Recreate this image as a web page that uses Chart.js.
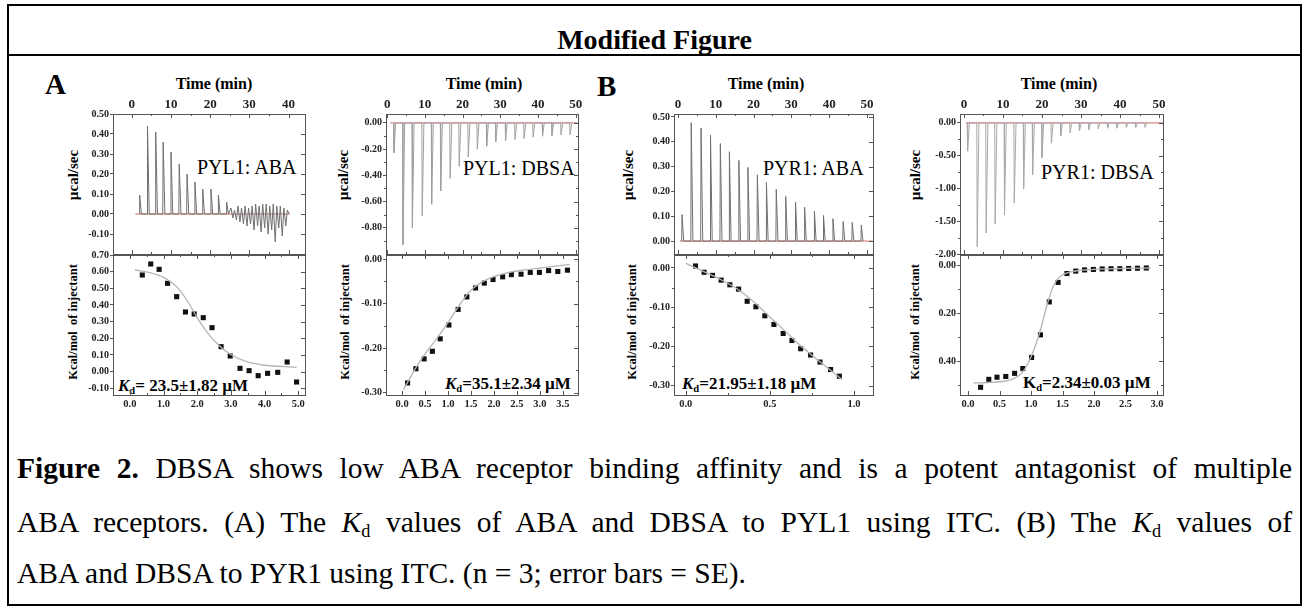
<!DOCTYPE html>
<html>
<head>
<meta charset="utf-8">
<script src="https://cdn.jsdelivr.net/npm/chart.js@4.4.1/dist/chart.umd.min.js"></script>
<style>
  html, body { margin: 0; padding: 0; background: #fff; }
  body { width: 1309px; height: 611px; position: relative; overflow: hidden;
         font-family: 'Liberation Serif', 'Times New Roman', serif; color: #000; }
  #frame { position: absolute; left: 7px; top: 4px; width: 1295px; height: 602px;
           border: 2px solid #000; box-sizing: border-box; }
  #rule { position: absolute; left: 7px; top: 54px; width: 1295px; height: 2px; background: #000; }
  #title { position: absolute; left: 0; width: 1309px; top: 25px; text-align: center;
           font-weight: bold; font-size: 28px; line-height: 30px; }
  canvas { position: absolute; }
  .lbl { position: absolute; white-space: pre; transform: translate(0, -50%); }
  .ctr { position: absolute; white-space: pre; transform: translate(-50%, -50%); }
  .rot { position: absolute; white-space: pre; transform: translate(-50%, -50%) rotate(-90deg);
         font-weight: bold; }
  .panel { font-weight: bold; font-size: 29px; }
  .tmin { font-weight: bold; font-size: 16px; }
  .name { font-size: 20px; }
  .kd { font-weight: bold; font-size: 17px; }
  .kd sub, .cap sub { font-size: 0.62em; vertical-align: -0.25em; line-height: 0; }
  .cap { position: absolute; left: 17px; width: 1275px; font-size: 29.5px; line-height: 32px;
         white-space: nowrap; }
  .just { text-align: justify; text-align-last: justify; }
</style>
</head>
<body>
<div id="frame"></div>
<div id="title">Modified Figure</div>
<div id="rule"></div>

<div class="lbl panel" style="left:45px; top:84px;">A</div>
<div class="lbl panel" style="left:597px; top:86px;">B</div>

<div class="ctr tmin" style="left:214px; top:84px;">Time (min)</div>
<div class="ctr tmin" style="left:484px; top:84px;">Time (min)</div>
<div class="ctr tmin" style="left:766px; top:84px;">Time (min)</div>
<div class="ctr tmin" style="left:1059px; top:84px;">Time (min)</div>

<div class="rot" style="left:73px; top:175px; font-size:15px;">µcal/sec</div>
<div class="rot" style="left:343px; top:175px; font-size:15px;">µcal/sec</div>
<div class="rot" style="left:628px; top:175px; font-size:15px;">µcal/sec</div>
<div class="rot" style="left:915px; top:175px; font-size:15px;">µcal/sec</div>

<div class="rot" style="left:73px; top:322px; font-size:12.5px;">Kcal/mol  of injectant</div>
<div class="rot" style="left:345px; top:322px; font-size:12.5px;">Kcal/mol  of injectant</div>
<div class="rot" style="left:632px; top:322px; font-size:12.5px;">Kcal/mol  of injectant</div>
<div class="rot" style="left:915px; top:322px; font-size:12.5px;">Kcal/mol  of injectant</div>

<div class="lbl name" style="left:197px; top:167px;">PYL1: ABA</div>
<div class="lbl name" style="left:463px; top:168px;">PYL1: DBSA</div>
<div class="lbl name" style="left:763px; top:168px;">PYR1: ABA</div>
<div class="lbl name" style="left:1041px; top:172px;">PYR1: DBSA</div>

<div class="lbl kd" style="left:118px; top:386px;"><i>K</i><sub>d</sub>= 23.5±1.82 µM</div>
<div class="lbl kd" style="left:445px; top:384px;"><i>K</i><sub>d</sub>=35.1±2.34 µM</div>
<div class="lbl kd" style="left:682px; top:384px;"><i>K</i><sub>d</sub>=21.95±1.18 µM</div>
<div class="lbl kd" style="left:1023px; top:383px;">K<sub>d</sub>=2.34±0.03 µM</div>

<div class="cap just" style="top:452px;"><b>Figure 2.</b> DBSA shows low ABA receptor binding affinity and is a potent antagonist of multiple</div>
<div class="cap just" style="top:506px;">ABA receptors. (A) The <i>K</i><sub>d</sub> values of ABA and DBSA to PYL1 using ITC. (B) The <i>K</i><sub>d</sub> values of</div>
<div class="cap" style="top:557px;">ABA and DBSA to PYR1 using ITC. (n = 3; error bars = SE).</div>

<script>
// ---------- thermograms: injection times (min) and peak power (µcal/sec) ----------
const a1InjTime = [1.9, 3.9, 6.0, 7.9, 9.9, 12.0, 14.0, 16.0, 18.0, 20.1, 22.0, 24.1];
const a1InjPeak = [0.095, 0.44, 0.41, 0.36, 0.31, 0.25, 0.20, 0.16, 0.125, 0.125, 0.095, 0.06];
const a1TailTime = [24.8, 25.3, 25.8, 26.2, 26.7, 27.1, 27.6, 28.0, 28.5, 28.9, 29.4, 29.8, 30.3, 30.7,
                    31.2, 31.6, 32.1, 32.5, 33.0, 33.4, 33.9, 34.3, 34.8, 35.2, 35.7, 36.1, 36.6, 37.0,
                    37.5, 37.9, 38.4, 38.8, 39.3, 39.7, 40.2];
const a1TailPower = [0.0, 0.03, -0.02, 0.02, -0.03, 0.04, -0.04, 0.03, -0.05, 0.04, -0.06, 0.03, -0.05, 0.04,
                     -0.08, 0.05, -0.06, 0.04, -0.09, 0.05, -0.07, 0.05, -0.10, 0.04, -0.08, 0.05, -0.14, 0.04,
                     -0.07, 0.04, -0.11, 0.03, -0.06, 0.02, 0.0];

const a2InjTime = [1.7, 4.1, 6.6, 9.2, 11.7, 14.1, 16.6, 19.0, 21.4, 23.8, 26.3, 28.7, 31.3, 33.8,
                   36.2, 38.6, 41.1, 43.6, 46.0, 48.4];
const a2InjPeak = [-0.228, -0.929, -0.80, -0.709, -0.62, -0.519, -0.423, -0.33, -0.26, -0.20, -0.177,
                   -0.144, -0.134, -0.127, -0.119, -0.109, -0.101, -0.096, -0.092, -0.09];

const b1InjTime = [0.97, 3.4, 6.0, 8.5, 11.1, 13.5, 16.0, 18.4, 20.9, 23.3, 25.9, 28.4, 31.0, 33.4,
                   36.0, 38.4, 40.9, 43.6, 46.0, 48.4];
const b1InjPeak = [0.107, 0.477, 0.456, 0.427, 0.393, 0.36, 0.325, 0.297, 0.267, 0.236, 0.209, 0.18,
                   0.157, 0.137, 0.12, 0.103, 0.09, 0.079, 0.075, 0.065];

const b2InjTime = [0.85, 3.3, 5.6, 7.9, 10.3, 12.8, 15.2, 17.5, 19.9, 22.3, 24.7, 27.1, 29.5, 31.9,
                   34.3, 36.7, 39.1, 41.5, 43.9, 46.3];
const b2InjPeak = [-0.43, -1.89, -1.68, -1.54, -1.40, -1.22, -1.00, -0.79, -0.53, -0.31, -0.20, -0.15,
                   -0.12, -0.10, -0.09, -0.08, -0.08, -0.07, -0.07, -0.07];

// ---------- integrated heats (kcal/mol of injectant) vs molar ratio ----------
const a1Ratio = [0.37, 0.62, 0.87, 1.12, 1.39, 1.65, 1.91, 2.18, 2.44, 2.71, 2.98, 3.27, 3.54, 3.81, 4.09, 4.39, 4.67, 4.95];
const a1Heat  = [0.58, 0.646, 0.614, 0.53, 0.45, 0.358, 0.346, 0.324, 0.264, 0.15, 0.094, 0.02, 0.006, -0.024, -0.01, -0.004, 0.058, -0.062];
const a1FitRatio = [0.15, 0.6, 1.0, 1.39, 1.69, 1.98, 2.28, 2.58, 2.97, 3.47, 3.96, 4.95];
const a1FitHeat  = [0.61, 0.594, 0.566, 0.51, 0.43, 0.33, 0.24, 0.17, 0.106, 0.06, 0.04, 0.026];

const a2Ratio = [0.12, 0.30, 0.48, 0.66, 0.83, 1.02, 1.22, 1.41, 1.60, 1.79, 1.98, 2.19, 2.38, 2.59, 2.79, 2.99, 3.19, 3.39, 3.60];
const a2Heat  = [-0.278, -0.246, -0.224, -0.207, -0.179, -0.148, -0.113, -0.085, -0.065, -0.054, -0.046, -0.040, -0.035, -0.034, -0.030, -0.030, -0.026, -0.028, -0.025];
const a2FitRatio = [0.03, 0.39, 0.75, 0.97, 1.26, 1.48, 1.70, 1.98, 2.28, 2.71, 3.43, 3.65];
const a2FitHeat  = [-0.293, -0.229, -0.179, -0.147, -0.102, -0.072, -0.054, -0.040, -0.031, -0.024, -0.015, -0.012];

const b1Ratio = [0.058, 0.109, 0.159, 0.210, 0.262, 0.314, 0.365, 0.417, 0.470, 0.524, 0.579, 0.631, 0.683, 0.742, 0.798, 0.861, 0.913];
const b1Heat  = [0.005, -0.011, -0.019, -0.031, -0.043, -0.054, -0.085, -0.099, -0.122, -0.144, -0.167, -0.185, -0.206, -0.222, -0.240, -0.259, -0.276];
const b1FitRatio = [0.0, 0.1, 0.2, 0.3, 0.4, 0.5, 0.6, 0.7, 0.8, 0.93];
const b1FitHeat  = [0.012, -0.008, -0.028, -0.052, -0.085, -0.125, -0.165, -0.205, -0.24, -0.285];

const b2Ratio = [0.20, 0.33, 0.46, 0.60, 0.74, 0.87, 1.01, 1.15, 1.29, 1.43, 1.57, 1.71, 1.85, 1.99, 2.13, 2.27, 2.41, 2.55, 2.69, 2.83];
const b2Heat  = [0.508, 0.475, 0.466, 0.463, 0.45, 0.43, 0.384, 0.29, 0.153, 0.072, 0.035, 0.025, 0.02, 0.018, 0.016, 0.015, 0.015, 0.014, 0.013, 0.012];
const b2FitRatio = [0.085, 0.3, 0.5, 0.7, 0.85, 0.95, 1.05, 1.15, 1.25, 1.35, 1.45, 1.6, 2.0, 2.5, 2.9];
const b2FitHeat  = [0.49, 0.488, 0.485, 0.475, 0.45, 0.41, 0.35, 0.27, 0.17, 0.09, 0.05, 0.03, 0.018, 0.014, 0.012];

// ---------- tick labels ----------
const timeTicksA1 = [0, 10, 20, 30, 40];
const timeTicks = [0, 10, 20, 30, 40, 50];
const powerTicksA1 = [-0.1, 0, 0.1, 0.2, 0.3, 0.4, 0.5];
const powerTicksA2 = [-0.8, -0.6, -0.4, -0.2, 0];
const powerTicksB1 = [0, 0.1, 0.2, 0.3, 0.4, 0.5];
const powerTicksB2 = [-2, -1.5, -1, -0.5, 0];
const ratioTicksA1 = [0, 1, 2, 3, 4, 5];
const ratioTicksA2 = [0, 0.5, 1, 1.5, 2, 2.5, 3, 3.5];
const ratioTicksB1 = [0, 0.5, 1];
const ratioTicksB2 = [0, 0.5, 1, 1.5, 2, 2.5, 3];
const heatTicksA1 = [-0.1, 0, 0.1, 0.2, 0.3, 0.4, 0.5, 0.6, 0.7];
const heatTicksA2 = [-0.3, -0.2, -0.1, 0];
const heatTicksB1 = [-0.3, -0.2, -0.1, 0];
const heatTicksB2 = [0, 0.2, 0.4];

// ---------- helpers ----------
const FONT = "'Liberation Serif', 'Times New Roman', serif";
Chart.defaults.font.family = FONT;
Chart.defaults.color = '#222';

// each injection: baseline, sharp peak, quick return to baseline
function spikeTrace(times, peaks) {
  const pts = [];
  times.forEach((t, i) => {
    pts.push({ x: t, y: 0 }, { x: t + 0.1, y: peaks[i] }, { x: t + 0.55, y: 0 });
  });
  return pts;
}
function pairs(xs, ys) { return xs.map((x, i) => ({ x: x, y: ys[i] })); }

// box outline plus short tick marks on the remaining edges
const framePlugin = {
  id: 'frame',
  afterDatasetsDraw(chart, args, o) {
    const { ctx, chartArea: a, scales } = chart;
    ctx.save();
    ctx.strokeStyle = '#555';
    ctx.lineWidth = 1;
    ctx.strokeRect(Math.round(a.left) + 0.5, Math.round(a.top) + 0.5,
                   Math.round(a.right - a.left), Math.round(a.bottom - a.top));
    const xs = scales.x, ys = scales.y;
    ctx.beginPath();
    const edgeX = o.xSide === 'top' ? a.top : a.bottom;
    const dir = o.xSide === 'top' ? 1 : -1;
    (o.xMajor || []).forEach(v => {
      const p = Math.round(xs.getPixelForValue(v)) + 0.5;
      ctx.moveTo(p, edgeX); ctx.lineTo(p, edgeX + dir * 4);
      ctx.moveTo(p, a.top + a.bottom - edgeX); ctx.lineTo(p, a.top + a.bottom - edgeX - dir * 4);
    });
    (o.xMinor || []).forEach(v => {
      const p = Math.round(xs.getPixelForValue(v)) + 0.5;
      ctx.moveTo(p, edgeX); ctx.lineTo(p, edgeX + dir * 2);
      ctx.moveTo(p, a.top + a.bottom - edgeX); ctx.lineTo(p, a.top + a.bottom - edgeX - dir * 2);
    });
    (o.yMajor || []).forEach(v => {
      const p = Math.round(ys.getPixelForValue(v)) + 0.5;
      ctx.moveTo(a.right, p); ctx.lineTo(a.right - 4, p);
    });
    (o.yMinor || []).forEach(v => {
      const p = Math.round(ys.getPixelForValue(v)) + 0.5;
      ctx.moveTo(a.left, p); ctx.lineTo(a.left - 2, p);
      ctx.moveTo(a.right, p); ctx.lineTo(a.right - 2, p);
    });
    ctx.stroke();
    ctx.restore();
  }
};

const AXIS_W = 60;
const PAD_R = 12;

function makeChart(box, kind, spec) {
  const top = kind === 'top';
  const xAxisH = top ? 20 : 18;
  const padTop = top ? 0 : 8;
  const padBottom = top ? 8 : 0;
  const cv = document.createElement('canvas');
  const W = AXIS_W + box.w + PAD_R;
  const H = (top ? xAxisH : padTop) + box.h + (top ? padBottom : xAxisH);
  cv.width = W; cv.height = H;
  cv.style.left = (box.left - AXIS_W) + 'px';
  cv.style.top = (box.top - (top ? xAxisH : padTop)) + 'px';
  cv.style.width = W + 'px'; cv.style.height = H + 'px';
  document.body.appendChild(cv);

  const tickFontX = { family: FONT, size: top ? 13 : 10.5, weight: 'bold' };
  const tickFontY = { family: FONT, size: 10, weight: 'bold' };

  new Chart(cv, {
    type: 'scatter',
    data: { datasets: spec.datasets },
    options: {
      responsive: false,
      animation: false,
      devicePixelRatio: 1,
      layout: { padding: { left: 0, right: PAD_R, top: padTop, bottom: padBottom } },
      plugins: { legend: { display: false }, tooltip: { enabled: false },
                 frame: { xSide: top ? 'top' : 'bottom', xMajor: spec.xTicks, xMinor: spec.xMinor,
                          yMajor: spec.yTicks, yMinor: spec.yMinor } },
      scales: {
        x: {
          type: 'linear', position: top ? 'top' : 'bottom',
          min: spec.xRange[0], max: spec.xRange[1],
          afterBuildTicks: s => { s.ticks = spec.xTicks.map(v => ({ value: v })); },
          afterFit: s => { s.height = xAxisH; },
          grid: { drawOnChartArea: false, drawTicks: false },
          border: { display: true, color: '#555', width: 1 },
          ticks: { font: tickFontX, padding: top ? 2 : 3, maxRotation: 0, autoSkip: false,
                   callback: v => spec.xFmt(v) }
        },
        y: {
          type: 'linear', position: 'left', reverse: !!spec.reverseY,
          min: spec.yRange[0], max: spec.yRange[1],
          afterBuildTicks: s => { s.ticks = spec.yTicks.map(v => ({ value: v })); },
          afterFit: s => { s.width = AXIS_W; },
          grid: { drawOnChartArea: false, drawTicks: true, tickLength: 3, color: '#555' },
          border: { display: true, color: '#555', width: 1 },
          ticks: { font: tickFontY, padding: 1, autoSkip: false,
                   callback: v => Number(v).toFixed(2) }
        }
      }
    },
    plugins: [framePlugin]
  });
}

function thermoSets(trace, baseFrom, baseTo, grey) {
  return [
    { data: trace, showLine: true, borderColor: grey, borderWidth: 1, pointRadius: 0, tension: 0 },
    { data: [{ x: baseFrom, y: 0 }, { x: baseTo, y: 0 }], showLine: true,
      borderColor: '#d46a6a', borderWidth: 1, pointRadius: 0 }
  ];
}
function isoSets(xr, yr, fx, fy) {
  return [
    { data: pairs(fx, fy), showLine: true, borderColor: '#b4b4b4', borderWidth: 1.3,
      pointRadius: 0, tension: 0.4, cubicInterpolationMode: 'monotone' },
    { data: pairs(xr, yr), showLine: false, pointStyle: 'rect', pointRadius: 3.6,
      backgroundColor: '#111', borderColor: '#111', borderWidth: 0 }
  ];
}

const fmtInt = v => String(Math.round(v));
const fmt1 = v => Number(v).toFixed(1);

// plot rectangles
const A1 = { left: 113, w: 192 }, A2 = { left: 386, w: 192 },
      B1 = { left: 674, w: 199 }, B2 = { left: 960, w: 203 };
const TOP = { top: 114, h: 140 }, BOT = { top: 255, h: 140 };

// ---- panel A, PYL1 : ABA ----
const a1Trace = spikeTrace(a1InjTime, a1InjPeak).concat(pairs(a1TailTime, a1TailPower));
makeChart({ ...A1, ...TOP }, 'top', {
  datasets: thermoSets(a1Trace, 0.9, 40.3, '#6f6f6f'),
  xRange: [-4.8, 44.2], yRange: [-0.2, 0.5],
  xTicks: timeTicksA1, xMinor: [5, 15, 25, 35], yTicks: powerTicksA1, yMinor: [],
  xFmt: fmtInt
});
makeChart({ ...A1, ...BOT }, 'bottom', {
  datasets: isoSets(a1Ratio, a1Heat, a1FitRatio, a1FitHeat),
  xRange: [-0.5, 5.2], yRange: [-0.14, 0.70],
  xTicks: ratioTicksA1, xMinor: [0.5, 1.5, 2.5, 3.5, 4.5], yTicks: heatTicksA1, yMinor: [],
  xFmt: fmt1
});

// ---- panel A, PYL1 : DBSA ----
makeChart({ ...A2, ...TOP }, 'top', {
  datasets: thermoSets(spikeTrace(a2InjTime, a2InjPeak), 0.8, 50.5, '#a0a0a0'),
  xRange: [-0.3, 50.6], yRange: [-1.0, 0.068],
  xTicks: timeTicks, xMinor: [5, 15, 25, 35, 45], yTicks: powerTicksA2, yMinor: [-0.9, -0.7, -0.5, -0.3, -0.1],
  xFmt: fmtInt
});
makeChart({ ...A2, ...BOT }, 'bottom', {
  datasets: isoSets(a2Ratio, a2Heat, a2FitRatio, a2FitHeat),
  xRange: [-0.35, 3.83], yRange: [-0.305, 0.009],
  xTicks: ratioTicksA2, xMinor: [], yTicks: heatTicksA2, yMinor: [-0.25, -0.15, -0.05],
  xFmt: fmt1
});

// ---- panel B, PYR1 : ABA ----
makeChart({ ...B1, ...TOP }, 'top', {
  datasets: thermoSets(spikeTrace(b1InjTime, b1InjPeak), 0.5, 51.5, '#707070'),
  xRange: [-1.06, 51.6], yRange: [-0.052, 0.512],
  xTicks: timeTicks, xMinor: [5, 15, 25, 35, 45], yTicks: powerTicksB1, yMinor: [],
  xFmt: fmtInt
});
makeChart({ ...B1, ...BOT }, 'bottom', {
  datasets: isoSets(b1Ratio, b1Heat, b1FitRatio, b1FitHeat),
  xRange: [-0.07, 1.113], yRange: [-0.324, 0.033],
  xTicks: ratioTicksB1, xMinor: [0.25, 0.75], yTicks: heatTicksB1, yMinor: [-0.25, -0.15, -0.05],
  xFmt: fmt1
});

// ---- panel B, PYR1 : DBSA ----
makeChart({ ...B2, ...TOP }, 'top', {
  datasets: thermoSets(spikeTrace(b2InjTime, b2InjPeak), 0.5, 51.0, '#a8a8a8'),
  xRange: [-1.0, 51.0], yRange: [-2.0, 0.136],
  xTicks: timeTicks, xMinor: [5, 15, 25, 35, 45], yTicks: powerTicksB2, yMinor: [-1.75, -1.25, -0.75, -0.25],
  xFmt: fmtInt
});
makeChart({ ...B2, ...BOT }, 'bottom', {
  datasets: isoSets(b2Ratio, b2Heat, b2FitRatio, b2FitHeat),
  xRange: [-0.127, 3.095], yRange: [-0.042, 0.54], reverseY: true,
  xTicks: ratioTicksB2, xMinor: [], yTicks: heatTicksB2, yMinor: [0.1, 0.3, 0.5],
  xFmt: fmt1
});
</script>
</body>
</html>
